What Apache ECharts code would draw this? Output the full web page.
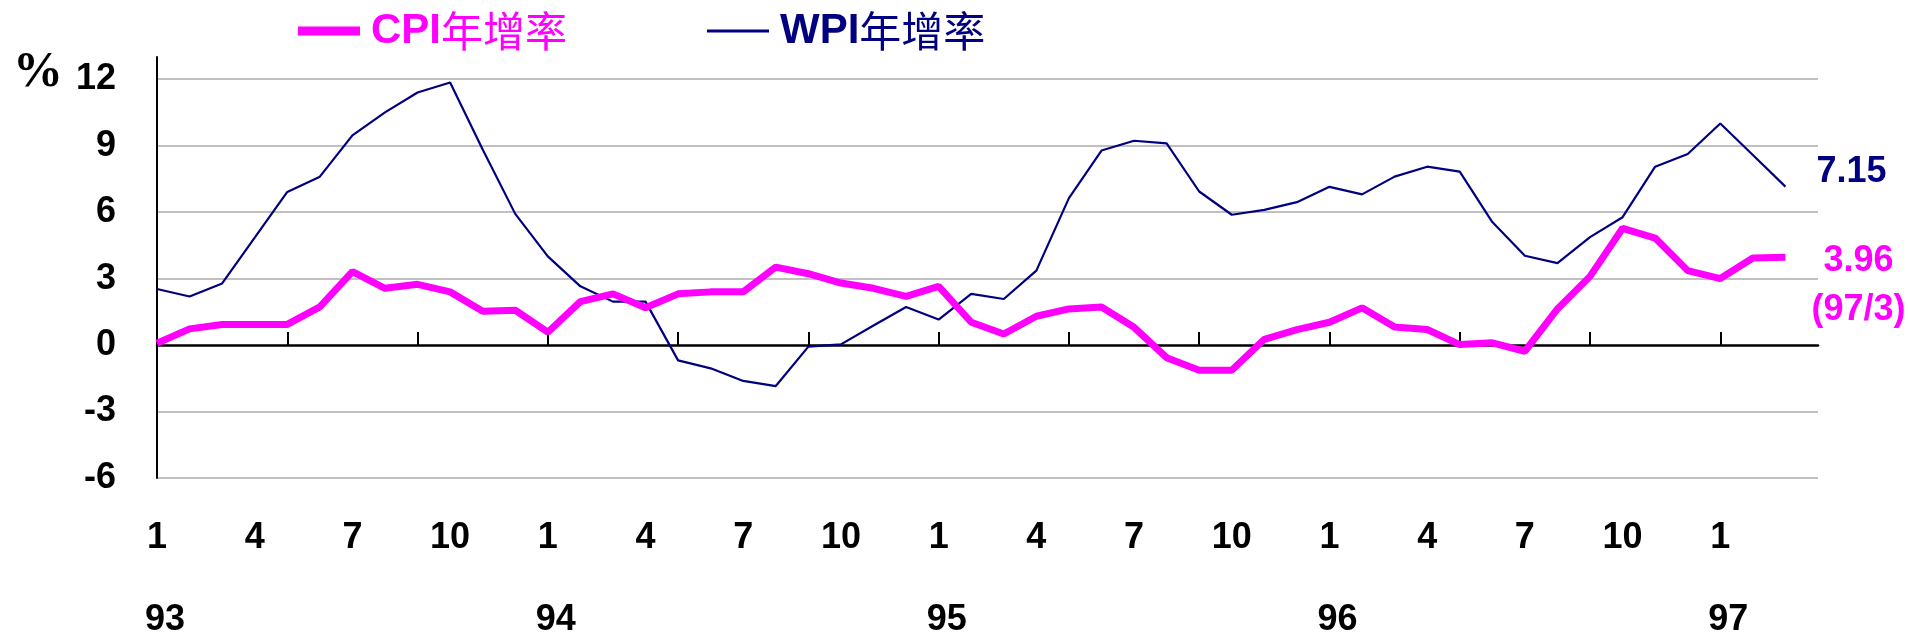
<!DOCTYPE html>
<html><head><meta charset="utf-8">
<script src="https://cdn.jsdelivr.net/npm/echarts@6/dist/echarts.min.js"></script>
<style>html,body{margin:0;padding:0;background:#fff}#c{width:1908px;height:638px}</style>
</head><body><div id="c"></div>
<script>
// ---- data ----
const years = ['93', '94', '95', '96', '97'];
const monthLabels = ['1', '4', '7', '10'];
const lastMonth = 4; // category slots run through 97/4 (last slot empty)
const yTicks = [-6, -3, 0, 3, 6, 9, 12];
const cpiName = 'CPI年增率';
const wpiName = 'WPI年增率';
const cpi = [0.08, 0.73, 0.93, 0.93, 0.93, 1.72, 3.31, 2.56, 2.74, 2.40, 1.53, 1.57,
             0.58, 1.96, 2.31, 1.68, 2.31, 2.40, 2.40, 3.52, 3.22, 2.80, 2.56, 2.20,
             2.65, 1.03, 0.50, 1.30, 1.63, 1.72, 0.80, -0.57, -1.14, -1.14, 0.26, 0.70,
             1.03, 1.68, 0.81, 0.70, 0.02, 0.10, -0.28, 1.63, 3.10, 5.27, 4.83, 3.36,
             3.00, 3.93, 3.96];
const wpi = [2.53, 2.19, 2.78, 4.85, 6.91, 7.60, 9.46, 10.50, 11.40, 11.85, 8.83, 5.92,
             4.00, 2.65, 1.96, 1.96, -0.69, -1.05, -1.62, -1.85, -0.07, 0.03, 0.88, 1.72,
             1.15, 2.31, 2.08, 3.36, 6.63, 8.78, 9.22, 9.10, 6.93, 5.88, 6.10, 6.45,
             7.14, 6.80, 7.60, 8.05, 7.83, 5.55, 4.03, 3.70, 4.87, 5.77, 8.05, 8.62,
             10.00, 8.58, 7.15];

// ---- build categories ----
const categories = [];
years.forEach((y, yi) => {
  const n = yi === years.length - 1 ? lastMonth : 12;
  for (let m = 1; m <= n; m++) categories.push(y + '/' + m);
});
const lastIdx = cpi.length - 1;

const FONT = "'Liberation Sans', Arial, 'Noto Sans CJK TC', sans-serif";
const CJK = "'Noto Sans CJK TC', sans-serif";
const MAG = '#ff00ff', NAVY = '#000080';

const gridColors = [];
for (let v = -6; v <= 12; v += 3) gridColors.push(v === 0 ? 'rgba(0,0,0,0)' : '#c0c0c0');
gridColors.push('rgba(0,0,0,0)');

const legendRich = {
  l: { fontFamily: FONT, fontSize: 42, fontWeight: 'bold' },
  c: { fontFamily: CJK, fontSize: 42, fontWeight: 'normal' }
};
const legendFmt = n => n.replace(/^([A-Z]+)(.*)$/, '{l|$1}{c|$2}');

const chart = echarts.init(document.getElementById('c'), null, { renderer: 'canvas' });
chart.setOption({
  animation: false,
  backgroundColor: '#fff',
  title: {
    text: '%', left: 13, top: 48, padding: 0,
    textStyle: { fontFamily: "'Liberation Serif', 'Times New Roman', serif", fontSize: 50, fontWeight: 'bold', color: '#000' }
  },
  legend: [
    { data: [{ name: cpiName, textStyle: { color: MAG } }], left: 298, top: 10, padding: 0,
      icon: 'rect', itemWidth: 62, itemHeight: 9, itemStyle: { borderWidth: 0 },
      formatter: legendFmt, textStyle: { rich: legendRich, padding: [0, 0, 0, 6] } },
    { data: [{ name: wpiName, textStyle: { color: NAVY } }], left: 707, top: 10, padding: 0,
      icon: 'rect', itemWidth: 62, itemHeight: 3, itemStyle: { borderWidth: 0 },
      formatter: legendFmt, textStyle: { rich: legendRich, padding: [0, 0, 0, 6] } }
  ],
  grid: { left: 157, right: 90, top: 57, bottom: 159, containLabel: false },
  xAxis: [
    { type: 'category', data: categories, boundaryGap: false,
      axisLine: { onZero: true, lineStyle: { color: '#000', width: 2.5 } },
      axisTick: { show: true, inside: true, length: 13, interval: i => i % 4 === 0 && i > 0,
                  lineStyle: { color: '#000', width: 2 } },
      axisLabel: { show: false }, splitLine: { show: false } },
    { type: 'category', data: categories, boundaryGap: false, position: 'bottom', gridIndex: 0,
      axisLine: { show: false, onZero: false }, axisTick: { show: false },
      axisLabel: { interval: i => i % 3 === 0 && i <= lastIdx, margin: 42, fontFamily: FONT, fontSize: 36,
                   fontWeight: 'bold', color: '#000', formatter: v => v.split('/')[1] } },
    { type: 'category', data: categories, boundaryGap: false, position: 'bottom', gridIndex: 0,
      axisLine: { show: false, onZero: false }, axisTick: { show: false },
      axisLabel: { interval: i => i % 12 === 0, margin: 124, fontFamily: FONT, fontSize: 36,
                   fontWeight: 'bold', color: '#000',
                   formatter: v => '{y|' + v.split('/')[0] + '}',
                   rich: { y: { fontFamily: FONT, fontSize: 36, fontWeight: 'bold', color: '#000', padding: [0, 0, 0, 16] } } } }
  ],
  yAxis: {
    type: 'value', min: yTicks[0], max: 13, interval: 3,
    axisLine: { show: true, lineStyle: { color: '#000', width: 2 } },
    axisTick: { show: false },
    axisLabel: { margin: 41, fontFamily: FONT, fontSize: 36, fontWeight: 'bold', color: '#000',
                 formatter: v => (yTicks.indexOf(v) >= 0 ? String(v) : '') },
    splitLine: { show: true, lineStyle: { color: gridColors, width: 2 } }
  },
  series: [
    { name: wpiName, type: 'line', data: wpi, symbol: 'none', z: 3,
      lineStyle: { color: NAVY, width: 2.2 }, itemStyle: { color: NAVY },
      endLabel: { show: true, distance: 0, offset: [31, -15], align: 'left',
                  formatter: p => String(p.value), fontFamily: FONT, fontSize: 36,
                  fontWeight: 'bold', color: NAVY } },
    { name: cpiName, type: 'line', data: cpi, symbol: 'none', z: 4,
      lineStyle: { color: MAG, width: 7 }, itemStyle: { color: MAG },
      endLabel: { show: true, distance: 0, offset: [73, 28], align: 'center',
                  formatter: p => '{a|' + p.value + '}\n{a|(' + p.name + ')}',
                  rich: { a: { fontFamily: FONT, fontSize: 36, fontWeight: 'bold', color: MAG, lineHeight: 49, align: 'center' } } } }
  ]
});
</script>
</body></html>
